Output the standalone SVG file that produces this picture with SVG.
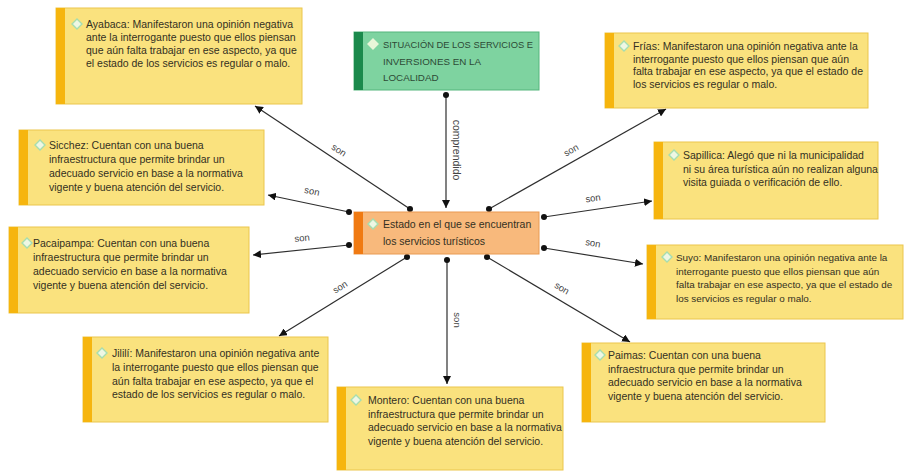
<svg xmlns="http://www.w3.org/2000/svg" width="904" height="473" viewBox="0 0 904 473">
<defs>
<style>
.yb{fill:#FAE27E;stroke:#EBC64C;stroke-width:1}
.yl{fill:#F6B50E}
.t{font-family:"Liberation Sans",Arial,sans-serif;font-size:10.5px;fill:#333022}
.s{font-size:9.9px}
.g{font-family:"Liberation Sans",Arial,sans-serif;font-size:9.8px;fill:#2d4a36}
.dm{fill:#EEF7E4;stroke:#A6DDB0;stroke-width:1.4}
.ln{stroke:#2e2e2e;stroke-width:1.2;fill:none}
.dot{fill:#111}
.lb{font-family:"Liberation Sans",Arial,sans-serif;font-size:9.5px;fill:#444;text-anchor:middle}
</style>
<marker id="ar" markerUnits="userSpaceOnUse" markerWidth="9" markerHeight="8" refX="8" refY="4" orient="auto">
<path d="M0,0 L8,4 L0,8 z" fill="#111"/>
</marker>
</defs>
<rect width="904" height="473" fill="#fff"/>

<g id="connectors">
<line class="ln" x1="410" y1="209" x2="255" y2="106" marker-end="url(#ar)"/>
<line class="ln" x1="349" y1="212" x2="268" y2="195" marker-end="url(#ar)"/>
<line class="ln" x1="349" y1="245" x2="253" y2="255" marker-end="url(#ar)"/>
<line class="ln" x1="407" y1="257" x2="279" y2="336" marker-end="url(#ar)"/>
<line class="ln" x1="447" y1="260" x2="447" y2="384" marker-end="url(#ar)"/>
<line class="ln" x1="487" y1="257" x2="630" y2="342" marker-end="url(#ar)"/>
<line class="ln" x1="544" y1="248" x2="643" y2="264" marker-end="url(#ar)"/>
<line class="ln" x1="544" y1="217" x2="652" y2="201" marker-end="url(#ar)"/>
<line class="ln" x1="489" y1="209" x2="666" y2="109" marker-end="url(#ar)"/>
<line class="ln" x1="446" y1="95" x2="446" y2="208" marker-end="url(#ar)"/>
<circle class="dot" cx="410" cy="209" r="3"/>
<circle class="dot" cx="349" cy="212" r="3"/>
<circle class="dot" cx="349" cy="245" r="3"/>
<circle class="dot" cx="407" cy="257" r="3"/>
<circle class="dot" cx="447" cy="260" r="3"/>
<circle class="dot" cx="487" cy="257" r="3"/>
<circle class="dot" cx="544" cy="248" r="3"/>
<circle class="dot" cx="544" cy="217" r="3"/>
<circle class="dot" cx="489" cy="209" r="3"/>
<circle class="dot" cx="446" cy="95" r="3"/>
<text class="lb" transform="translate(339,150) rotate(33.6)" dy=".35em">son</text>
<text class="lb" transform="translate(312,191) rotate(11.8)" dy=".35em">son</text>
<text class="lb" transform="translate(302,238) rotate(-6)" dy=".35em">son</text>
<text class="lb" transform="translate(340,287) rotate(-31.7)" dy=".35em">son</text>
<text class="lb" transform="translate(457,320) rotate(90)" dy=".35em">son</text>
<text class="lb" transform="translate(562,288) rotate(30.7)" dy=".35em">son</text>
<text class="lb" transform="translate(593,243) rotate(9)" dy=".35em">son</text>
<text class="lb" transform="translate(593,198) rotate(-8.4)" dy=".35em">son</text>
<text class="lb" transform="translate(571,150) rotate(-29.5)" dy=".35em">son</text>
<text class="lb" style="font-size:10.5px" transform="translate(457,150) rotate(90)" dy=".35em">comprendido</text>
</g>

<g id="situacion">
<rect x="354" y="32" width="185" height="58" fill="#7ED3A0" stroke="#55B57D"/>
<rect x="354" y="32" width="9" height="58" fill="#1B8A4C"/>
<path class="dm" d="M373,39 L378,44 L373,49 L368,44 z" style="fill:#E9F6D8;stroke:#E9F6D8"/>
<text class="g" x="383" y="48" textLength="150" lengthAdjust="spacingAndGlyphs">SITUACIÓN DE LOS SERVICIOS E</text>
<text class="g" x="383" y="64.5">INVERSIONES EN LA</text>
<text class="g" x="383" y="80.5">LOCALIDAD</text>
</g>

<g id="estado">
<rect x="354" y="212" width="185" height="42" fill="#F8B97C" stroke="#E99A52"/>
<rect x="354" y="212" width="9" height="42" fill="#F07A12"/>
<path class="dm" d="M373,219 L378,224 L373,229 L368,224 z"/>
<text class="t" x="383" y="228">Estado en el que se encuentran</text>
<text class="t" x="383" y="245">los servicios turísticos</text>
</g>

<g id="ayabaca">
<rect class="yb" x="56" y="8" width="246" height="96"/>
<rect class="yl" x="56" y="8" width="9" height="96"/>
<path class="dm" d="M77,19 L82,24 L77,29 L72,24 z"/>
<text class="t" x="86" y="28">Ayabaca: Manifestaron una opinión negativa</text>
<text class="t" x="86" y="41">ante la interrogante puesto que ellos piensan</text>
<text class="t" x="86" y="54">que aún falta trabajar en ese aspecto, ya que</text>
<text class="t" x="86" y="67">el estado de los servicios es regular o malo.</text>
</g>

<g id="frias">
<rect class="yb" x="605" y="33" width="263" height="75"/>
<rect class="yl" x="605" y="33" width="9" height="75"/>
<path class="dm" d="M624,41 L629,46 L624,51 L619,46 z"/>
<text class="t" x="633" y="50">Frías: Manifestaron una opinión negativa ante la</text>
<text class="t" x="633" y="62.5">interrogante puesto que ellos piensan que aún</text>
<text class="t" x="633" y="75">falta trabajar en ese aspecto, ya que el estado de</text>
<text class="t" x="633" y="87.5">los servicios es regular o malo.</text>
</g>

<g id="sicchez">
<rect class="yb" x="19" y="130" width="245" height="75"/>
<rect class="yl" x="19" y="130" width="9" height="75"/>
<path class="dm" d="M40,140 L45,145 L40,150 L35,145 z"/>
<text class="t" x="49" y="149">Sicchez: Cuentan con una buena</text>
<text class="t" x="49" y="163">infraestructura que permite brindar un</text>
<text class="t" x="49" y="177">adecuado servicio en base a la normativa</text>
<text class="t" x="49" y="191">vigente y buena atención del servicio.</text>
</g>

<g id="pacaipampa">
<rect class="yb" x="9" y="227" width="240" height="86"/>
<rect class="yl" x="9" y="227" width="9" height="86"/>
<path class="dm" d="M27,238 L32,243 L27,248 L22,243 z"/>
<text class="t" x="33" y="247">Pacaipampa: Cuentan con una buena</text>
<text class="t" x="33" y="261">infraestructura que permite brindar un</text>
<text class="t" x="33" y="275">adecuado servicio en base a la normativa</text>
<text class="t" x="33" y="289">vigente y buena atención del servicio.</text>
</g>

<g id="sapillica">
<rect class="yb" x="654" y="142" width="224" height="77"/>
<rect class="yl" x="654" y="142" width="9" height="77"/>
<path class="dm" d="M674,150 L679,155 L674,160 L669,155 z"/>
<text class="t" x="683" y="159">Sapillica: Alegó que ni la municipalidad</text>
<text class="t" x="683" y="172.5">ni su área turística aún no realizan alguna</text>
<text class="t" x="683" y="186">visita guiada o verificación de ello.</text>
</g>

<g id="suyo">
<rect class="yb" x="647" y="245" width="256" height="74"/>
<rect class="yl" x="647" y="245" width="9" height="74"/>
<path class="dm" d="M667,252 L672,257 L667,262 L662,257 z"/>
<text class="t s" x="676" y="261">Suyo: Manifestaron una opinión negativa ante la</text>
<text class="t s" x="676" y="274.5">interrogante puesto que ellos piensan que aún</text>
<text class="t s" x="676" y="288">falta trabajar en ese aspecto, ya que el estado de</text>
<text class="t s" x="676" y="301.5">los servicios es regular o malo.</text>
</g>

<g id="jilili">
<rect class="yb" x="83" y="337" width="245" height="85"/>
<rect class="yl" x="83" y="337" width="9" height="85"/>
<path class="dm" d="M102,348 L107,353 L102,358 L97,353 z"/>
<text class="t" x="112" y="357">Jililí: Manifestaron una opinión negativa ante</text>
<text class="t" x="112" y="371">la interrogante puesto que ellos piensan que</text>
<text class="t" x="112" y="384.5">aún falta trabajar en ese aspecto, ya que el</text>
<text class="t" x="112" y="398">estado de los servicios es regular o malo.</text>
</g>

<g id="montero">
<rect class="yb" x="337" y="387" width="226" height="83"/>
<rect class="yl" x="337" y="387" width="9" height="83"/>
<path class="dm" d="M356,395 L361,400 L356,405 L351,400 z"/>
<text class="t" x="368" y="404">Montero: Cuentan con una buena</text>
<text class="t" x="368" y="417.5">infraestructura que permite brindar un</text>
<text class="t" x="368" y="431">adecuado servicio en base a la normativa</text>
<text class="t" x="368" y="445">vigente y buena atención del servicio.</text>
</g>

<g id="paimas">
<rect class="yb" x="582" y="343" width="243" height="79"/>
<rect class="yl" x="582" y="343" width="9" height="79"/>
<path class="dm" d="M600,350 L605,355 L600,360 L595,355 z"/>
<text class="t" x="608" y="359">Paimas: Cuentan con una buena</text>
<text class="t" x="608" y="372.5">infraestructura que permite brindar un</text>
<text class="t" x="608" y="386">adecuado servicio en base a la normativa</text>
<text class="t" x="608" y="399.5">vigente y buena atención del servicio.</text>
</g>
</svg>
